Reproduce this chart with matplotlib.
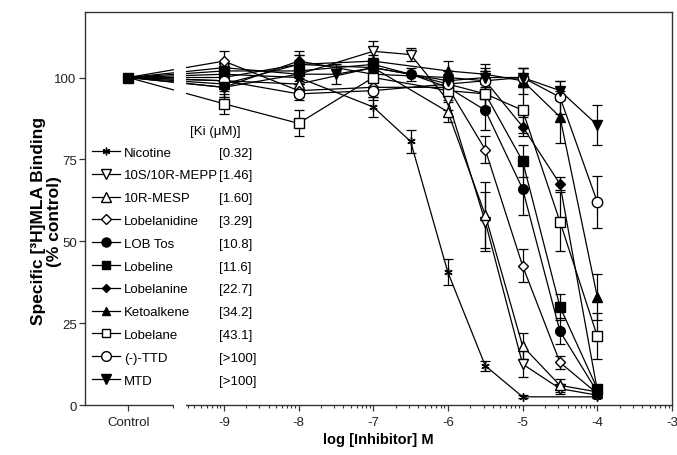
import matplotlib
matplotlib.use('Agg')
import matplotlib.pyplot as plt
from matplotlib.lines import Line2D
from matplotlib.patches import Rectangle
import numpy as np

plt.rcParams['font.family'] = ['Liberation Sans', 'DejaVu Sans']

# ---- data (log M, % control) ----
ctrl_x = -10.28
brk = (-9.683, -9.48)

names = ['Nicotine', '10S/10R-MEPP', '10R-MESP', 'Lobelanidine', 'LOB Tos',
         'Lobeline', 'Lobelanine', 'Ketoalkene', 'Lobelane', '(-)-TTD', 'MTD']
ki = ['[0.32]', '[1.46]', '[1.60]', '[3.29]', '[10.8]', '[11.6]',
      '[22.7]', '[34.2]', '[43.1]', '[>100]', '[>100]']

x_std = [-9, -8, -7, -6, -5.5, -5, -4.5, -4]
x_nic = [-9, -8, -7, -6.5, -6, -5.5, -5, -4]
x_65 = [-9, -8, -7, -6.5, -6, -5.5, -5, -4.5, -4]
x_mtd = [-9, -8, -7.5, -7, -6, -5.5, -5, -4.5, -4]

nic_y = [101, 100, 91, 80.5, 40.5, 12, 2.5, 2.5]
nic_e = [2, 2, 3, 3.5, 4, 1.5, 0.5, 0.5]
mepp_y = [103, 101, 108, 107, 93, 56, 12.5, 5, 3]
mepp_e = [2, 3, 3, 2, 3, 9, 4, 1.5, 1]
mesp_y = [99, 98, 103, 89.5, 58, 18, 6, 4]
mesp_e = [2, 2, 3, 3, 10, 4, 2, 1]
lbd_y = [105, 96, 97, 97, 78, 42.5, 13, 3.5]
lbd_e = [3, 2, 3, 2, 4, 5, 2, 1]
tos_y = [100, 104, 103, 101, 97, 90, 66, 22.5, 4]
tos_e = [2, 3, 2, 2, 3, 6, 8, 4, 1]
lob_y = [102, 102, 104, 98, 95, 74.5, 30, 5]
lob_e = [2, 3, 2, 2, 4, 5, 4, 1]
lbn_y = [97, 105, 101, 100, 99, 85, 67.5, 4.5]
lbn_e = [3, 3, 2, 2, 3, 3, 2, 1]
keto_y = [98, 104, 105, 102, 101, 99, 88, 33]
keto_e = [2, 3, 2, 3, 3, 4, 8, 7]
lbl_y = [92, 86, 100, 96, 95, 90, 56, 21]
lbl_e = [3, 4, 3, 3, 4, 7, 9, 7]
ttd_y = [99, 95, 96, 98, 99, 100, 94, 62]
ttd_e = [2, 2, 3, 3, 3, 3, 5, 8]
mtd_y = [97, 101, 101, 103, 99, 100, 100, 96, 85.5]
mtd_e = [3, 3, 3, 2, 3, 3, 3, 3, 6]

series = [
    (x_nic, nic_y, nic_e, (6, 2, 0), 'k', 6),
    (x_65, mepp_y, mepp_e, 'v', 'white', 7),
    (x_std, mesp_y, mesp_e, '^', 'white', 7),
    (x_std, lbd_y, lbd_e, 'D', 'white', 5.5),
    (x_65, tos_y, tos_e, 'o', 'k', 7),
    (x_std, lob_y, lob_e, 's', 'k', 6.5),
    (x_std, lbn_y, lbn_e, 'D', 'k', 5),
    (x_std, keto_y, keto_e, '^', 'k', 6.5),
    (x_std, lbl_y, lbl_e, 's', 'white', 6.5),
    (x_std, ttd_y, ttd_e, 'o', 'white', 7.5),
    (x_mtd, mtd_y, mtd_e, 'v', 'k', 7),
]

fig = plt.figure(figsize=(6.77, 4.56), dpi=100)
ax = fig.add_axes([0.1256, 0.1096, 0.8670, 0.8619])

handles = []
for xs, ys, es, mk, fc, ms in series:
    ax.plot([ctrl_x] + xs, [100] + ys, color='k', lw=0.9, zorder=2)
    ax.errorbar(xs, ys, yerr=es, fmt='none', ecolor='k', elinewidth=0.9,
                capsize=3.5, capthick=0.9, zorder=4)
    ax.plot(xs, ys, linestyle='none', marker=mk, ms=ms, mfc=fc, mec='k',
            mew=1.0, zorder=5)
    handles.append(Line2D([], [], color='k', lw=0.9, marker=mk, ms=ms - 0.5,
                          mfc=fc, mec='k', mew=1.0))

# control point
ax.plot([ctrl_x], [100], linestyle='none', marker='s', ms=7.5, color='k', zorder=6)

# axis break
ax.add_patch(Rectangle((brk[0] + 0.02, -1.6), brk[1] - brk[0] - 0.04, 120.5,
                       facecolor='white', edgecolor='none', zorder=3,
                       clip_on=False))

ax.set_xlim(-10.858, -3)
ax.set_ylim(0, 120)

major = [ctrl_x, -9, -8, -7, -6, -5, -4, -3]
ax.set_xticks(major)
ax.set_xticklabels(['Control', '-9', '-8', '-7', '-6', '-5', '-4', '-3'])
minor = [d + np.log10(k) for d in range(-10, -3) for k in range(2, 10)]
minor = [m for m in minor if m > brk[1]] + list(brk)
ax.set_xticks(minor, minor=True)
ax.set_yticks([0, 25, 50, 75, 100])

ax.tick_params(axis='both', which='major', direction='out', length=4,
               width=0.9, labelsize=9.5, labelcolor='#222', color='#333', pad=2)
ax.tick_params(axis='x', which='major', pad=4)
ax.tick_params(axis='x', which='minor', direction='out', length=2.5,
               width=0.8, color='#333')
for s in ax.spines.values():
    s.set_linewidth(1.0)
    s.set_color('#333')

ax.set_xlabel('log [Inhibitor] M', fontsize=10.5, fontweight='bold', labelpad=3)
ax.set_ylabel('Specific [³H]MLA Binding\n(% control)', fontsize=12.5,
              fontweight='bold', linespacing=1.05)
ax.yaxis.set_label_coords(-0.04, 0.47)

# legend: names + Ki column
leg1 = ax.legend(handles, names, loc='upper left', bbox_to_anchor=(0.012, 0.658),
                 frameon=False, fontsize=9.5, handlelength=2.1, handletextpad=0.3,
                 labelspacing=0.8, borderpad=0, borderaxespad=0)
ax.add_artist(leg1)
blank = [Line2D([], [], linestyle='none') for _ in ki]
ax.legend(blank, ki, loc='upper left', bbox_to_anchor=(0.228, 0.658),
          frameon=False, fontsize=9.5, handlelength=0, handletextpad=0,
          labelspacing=0.8, borderpad=0, borderaxespad=0)
ax.text(0.222, 0.698, '[Ki (μM)]', transform=ax.transAxes, fontsize=9.5,
        ha='center', va='center')

fig.savefig('out.png', dpi=100)
